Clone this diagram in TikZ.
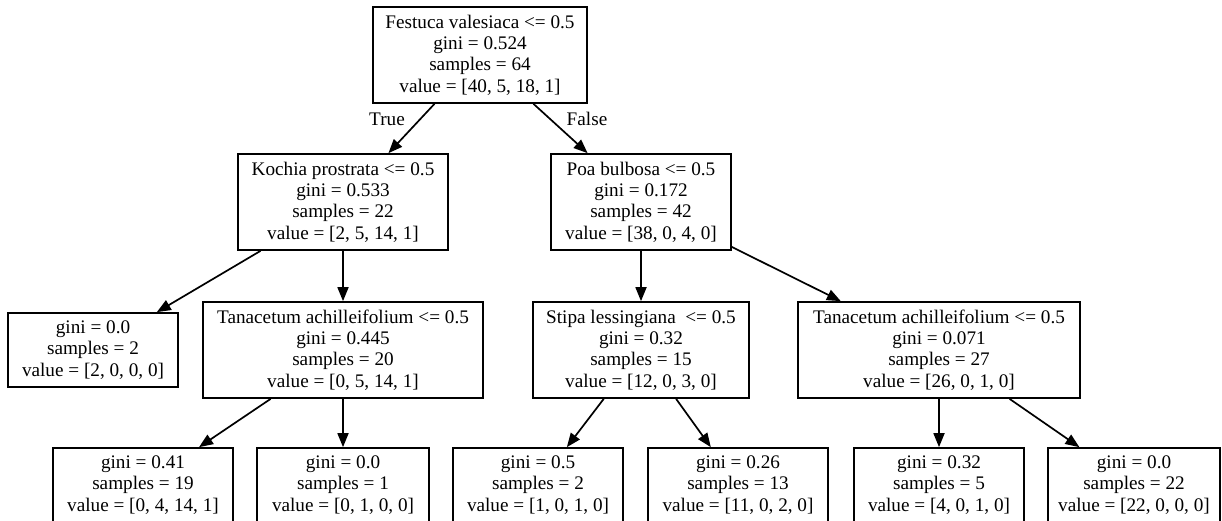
\documentclass[tikz,border=0pt]{standalone}
\usepackage{fontspec}
\setmainfont{Liberation Serif}
\usetikzlibrary{arrows.meta}
\begin{document}
\begin{tikzpicture}[x=1pt,y=-1pt,
  box/.style={draw, line width=1.7pt, inner sep=0pt, align=center,
    font=\fontsize{19.2}{21.4}\selectfont, minimum width=#1},
  split/.style={box=#1, minimum height=96pt},
  leaf/.style={box=#1, minimum height=74pt},
  lbl/.style={font=\fontsize{19.2}{21.4}\selectfont, inner sep=0pt},
  edge/.style={line width=1.7pt, -{Triangle[length=14pt,width=11pt]}}
]
\useasboundingbox (0,0) rectangle (1222,520);
\clip (0,0) rectangle (1222,520);
\fill[white] (0,0) rectangle (1222,520);

\node[split=214] (root) at (480,55) {Festuca valesiaca <= 0.5\\gini = 0.524\\samples = 64\\value = [40, 5, 18, 1]};
\node[split=210] (koch) at (343,202) {Kochia prostrata <= 0.5\\gini = 0.533\\samples = 22\\value = [2, 5, 14, 1]};
\node[split=180] (poa) at (641,202) {Poa bulbosa <= 0.5\\gini = 0.172\\samples = 42\\value = [38, 0, 4, 0]};
\node[leaf=170] (l1) at (93,350) {gini = 0.0\\samples = 2\\value = [2, 0, 0, 0]};
\node[split=280] (tan1) at (343,350) {Tanacetum achilleifolium <= 0.5\\gini = 0.445\\samples = 20\\value = [0, 5, 14, 1]};
\node[split=216] (stipa) at (641,350) {Stipa lessingiana~ <= 0.5\\gini = 0.32\\samples = 15\\value = [12, 0, 3, 0]};
\node[split=282] (tan2) at (939,350) {Tanacetum achilleifolium <= 0.5\\gini = 0.071\\samples = 27\\value = [26, 0, 1, 0]};
\node[leaf=180] (a) at (143,485) {gini = 0.41\\samples = 19\\value = [0, 4, 14, 1]};
\node[leaf=172] (b) at (343,485) {gini = 0.0\\samples = 1\\value = [0, 1, 0, 0]};
\node[leaf=170] (c) at (538,485) {gini = 0.5\\samples = 2\\value = [1, 0, 1, 0]};
\node[leaf=180] (d) at (738,485) {gini = 0.26\\samples = 13\\value = [11, 0, 2, 0]};
\node[leaf=170] (e) at (939,485) {gini = 0.32\\samples = 5\\value = [4, 0, 1, 0]};
\node[leaf=172] (f) at (1134,485) {gini = 0.0\\samples = 22\\value = [22, 0, 0, 0]};

\node[lbl] (t) at (387,119) {True};
\node[lbl] (fl) at (587,119) {False};

\draw[edge] (root) -- (koch);
\draw[edge] (root) -- (poa);
\draw[edge] (koch) -- (l1);
\draw[edge] (koch) -- (tan1);
\draw[edge] (poa) -- (stipa);
\draw[edge] (poa) -- (tan2);
\draw[edge] (tan1) -- (a);
\draw[edge] (tan1) -- (b);
\draw[edge] (stipa) -- (c);
\draw[edge] (stipa) -- (d);
\draw[edge] (tan2) -- (e);
\draw[edge] (tan2) -- (f);
\end{tikzpicture}
\end{document}
